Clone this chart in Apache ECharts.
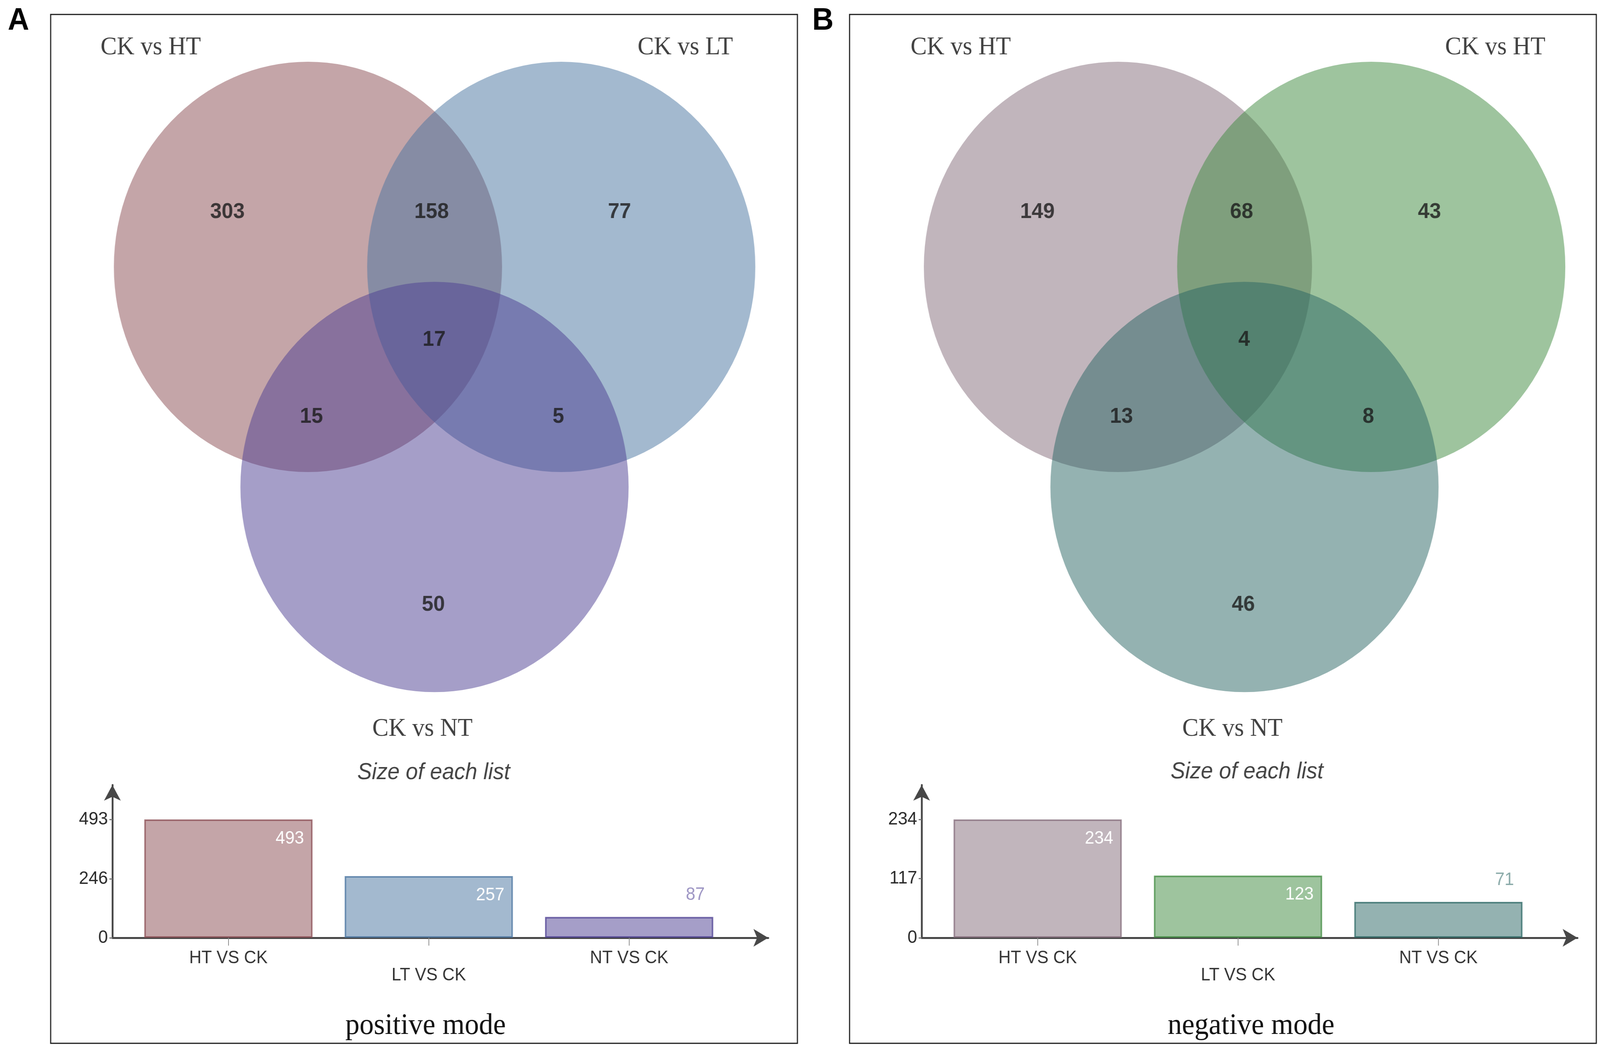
<!DOCTYPE html>
<html><head><meta charset="utf-8">
<script src="https://cdn.jsdelivr.net/npm/echarts@6/dist/echarts.min.js"></script>
<style>html,body{margin:0;padding:0;background:#fff;overflow:hidden}#c{width:4328px;height:2682px;transform-origin:0 0}</style>
</head><body><div id="c"></div>
<script>
// ---------------- data ----------------
const panelLetters = ['A', 'B'];
const modeTitles = ['positive mode', 'negative mode'];
const barTitle = 'Size of each list';
const vennSetNamesA = ['CK vs HT', 'CK vs LT', 'CK vs NT'];
const vennSetNamesB = ['CK vs HT', 'CK vs HT', 'CK vs NT'];
// region order: only set1, set1∩set2, only set2, all three, set1∩set3, set2∩set3, only set3
const vennCountsA = [303, 158, 77, 17, 15, 5, 50];
const vennCountsB = [149, 68, 43, 4, 13, 8, 46];
const barCategories = ['HT VS CK', 'LT VS CK', 'NT VS CK'];
const barValuesA = [493, 257, 87];
const barValuesB = [234, 123, 71];
const yTickLabelsA = [0, 246, 493];
const yTickLabelsB = [0, 117, 234];

// ---------------- styles / layout ----------------
const setColorsA = [[137, 75, 81], [71, 115, 159], [75, 61, 145]];
const setColorsB = [[131, 107, 121], [61, 137, 61], [41, 101, 99]];
const rgba = (c, a) => 'rgba(' + c[0] + ',' + c[1] + ',' + c[2] + ',' + a + ')';
const SANS = "'Liberation Sans', Arial, Helvetica, sans-serif";
const SERIF = "'Liberation Serif', 'Times New Roman', serif";

// fit the 4328x2682 design into whatever viewport the browser really gives
const el = document.getElementById('c');
const VW = document.documentElement.clientWidth || window.innerWidth;
const VH = document.documentElement.clientHeight || window.innerHeight;
el.style.transform = 'scale(' + (VW / 4328) + ',' + (VH / 2682) + ')';

const R = 525;                         // venn circle radius (px)
const circleCenters = [[0, 0], [1.305, 0], [0.652, -1.073]];   // in radius units
const regionAnchors = [[-0.415, 0.267], [0.637, 0.267], [1.605, 0.267], [0.65, -0.355],
                       [0.018, -0.731], [1.29, -0.731], [0.646, -1.647]];
const setLabelAnchors = [[-0.81, 1.07], [1.944, 1.07], [0.59, -2.252]];
const panels = [
  { rect: { left: 137, top: 37, width: 2020, height: 2633 }, c1: [833, 683], barLeft: 304,
    letter: [50, 54], sub: [1173, 1978], title: [1151, 2626],
    names: vennSetNamesA, counts: vennCountsA, colors: setColorsA, bars: barValuesA, ticks: yTickLabelsA },
  { rect: { left: 2298, top: 37, width: 2020, height: 2633 }, c1: [3024, 683], barLeft: 2493,
    letter: [2226, 54], sub: [3373, 1976], title: [3384, 2626],
    names: vennSetNamesB, counts: vennCountsB, colors: setColorsB, bars: barValuesB, ticks: yTickLabelsB }
];
const AXIS_Y = 2400, BAR_H = 391, BAR_MAXPX = 303, CAT_STEP = 542, XMIN = -0.579, XMAX = 2.694;

const grid = [], xAxis = [], yAxis = [], series = [], graphic = [];
panels.forEach((p, pi) => {
  const r = p.rect;
  // venn grid, also draws the panel frame
  grid.push({ left: r.left, top: r.top, width: r.width, height: r.height, show: true,
    borderColor: '#1c1c1c', borderWidth: 3, backgroundColor: 'transparent' });
  xAxis.push({ gridIndex: 2 * pi, type: 'value', show: false,
    min: -(p.c1[0] - r.left) / R, max: (r.left + r.width - p.c1[0]) / R });
  yAxis.push({ gridIndex: 2 * pi, type: 'value', show: false,
    min: -(r.top + r.height - p.c1[1]) / R, max: (p.c1[1] - r.top) / R });
  // bar grid
  grid.push({ left: p.barLeft, top: AXIS_Y - BAR_H, width: (XMAX - XMIN) * CAT_STEP, height: BAR_H });
  const maxV = Math.max.apply(null, p.bars);
  xAxis.push({ gridIndex: 2 * pi + 1, type: 'value', min: XMIN, max: XMAX,
    axisLine: { show: true, symbol: ['none', 'arrow'], symbolSize: [34, 40],
      lineStyle: { color: '#474747', width: 5 } },
    axisTick: { show: true, customValues: [0, 1, 2], length: 20, lineStyle: { color: '#8a8a8a', width: 2 } },
    axisLabel: { customValues: [0, 1, 2], fontFamily: SANS, fontSize: 46, lineHeight: 44, color: '#333', margin: 30,
      formatter: v => { const i = Math.round(v); return (i % 2 === 1 ? '\n' : '') + barCategories[i]; } },
    splitLine: { show: false } });
  yAxis.push({ gridIndex: 2 * pi + 1, type: 'value', min: 0, max: maxV * BAR_H / BAR_MAXPX,
    axisLine: { show: true, onZero: false, symbol: ['none', 'arrow'], symbolSize: [34, 40],
      lineStyle: { color: '#474747', width: 5 } },
    axisTick: { show: true, customValues: p.ticks, length: 8, lineStyle: { color: '#777', width: 3 } },
    axisLabel: { customValues: p.ticks, fontFamily: SANS, fontSize: 47, color: '#2a2a2a', margin: 12 },
    splitLine: { show: false } });

  // venn circles
  p.colors.forEach((c, i) => {
    series.push({ type: 'scatter', xAxisIndex: 2 * pi, yAxisIndex: 2 * pi, silent: true, animation: false,
      symbol: 'circle', symbolSize: 2 * R, z: 2 + i,
      itemStyle: { color: rgba(c, 0.5), opacity: 1 }, emphasis: { disabled: true },
      data: [circleCenters[i]] });
  });
  // region counts
  series.push({ type: 'scatter', xAxisIndex: 2 * pi, yAxisIndex: 2 * pi, silent: true, animation: false,
    symbolSize: 1, z: 10, itemStyle: { color: 'rgba(0,0,0,0)' }, emphasis: { disabled: true },
    label: { show: true, position: 'inside', formatter: q => q.value[2], fontFamily: SANS,
      fontWeight: 'bold', fontSize: 56, color: '#1a1a1a' },
    data: regionAnchors.map((a, k) => [a[0], a[1], p.counts[k]]) });
  // set names
  series.push({ type: 'scatter', xAxisIndex: 2 * pi, yAxisIndex: 2 * pi, silent: true, animation: false,
    symbolSize: 1, z: 10, itemStyle: { color: 'rgba(0,0,0,0)' }, emphasis: { disabled: true },
    label: { show: true, position: 'inside', formatter: q => q.value[2], fontFamily: SERIF,
      fontSize: 66, color: '#111' },
    data: setLabelAnchors.map((a, k) => [a[0], a[1], p.names[k]]) });
  // list-size bars
  series.push({ type: 'bar', xAxisIndex: 2 * pi + 1, yAxisIndex: 2 * pi + 1, silent: true, animation: false,
    barWidth: 455, z: 3,
    data: p.bars.map((v, i) => {
      const inside = v / maxV > 0.4;
      return { value: [i, v],
        itemStyle: { color: rgba(p.colors[i], 0.5), borderColor: rgba(p.colors[i], 0.75), borderWidth: 4 },
        label: { show: true, position: ['100%', 0], align: 'right', verticalAlign: 'middle',
          offset: [-23, inside ? 49 : -56], fontFamily: SANS, fontSize: 46,
          color: inside ? '#ffffff' : rgba(p.colors[i], 0.55) } };
    }) });

  graphic.push({ type: 'text', x: p.letter[0], y: p.letter[1], silent: true,
    style: { text: panelLetters[pi], font: 'bold 80px ' + SANS, fill: '#000',
      align: 'center', verticalAlign: 'middle' } });
  graphic.push({ type: 'text', x: p.sub[0], y: p.sub[1], silent: true,
    style: { text: barTitle, font: 'italic 59px ' + SANS, fill: '#444', align: 'center', verticalAlign: 'middle' } });
  graphic.push({ type: 'text', x: p.title[0], y: p.title[1], silent: true,
    style: { text: modeTitles[pi], font: '77px ' + SERIF, fill: '#111', align: 'center', verticalAlign: 'middle' } });
});

const chart = echarts.init(el, null, { renderer: 'canvas', width: 4328, height: 2682 });
chart.setOption({ animation: false, backgroundColor: '#ffffff', grid, xAxis, yAxis, series, graphic });
</script></body></html>
